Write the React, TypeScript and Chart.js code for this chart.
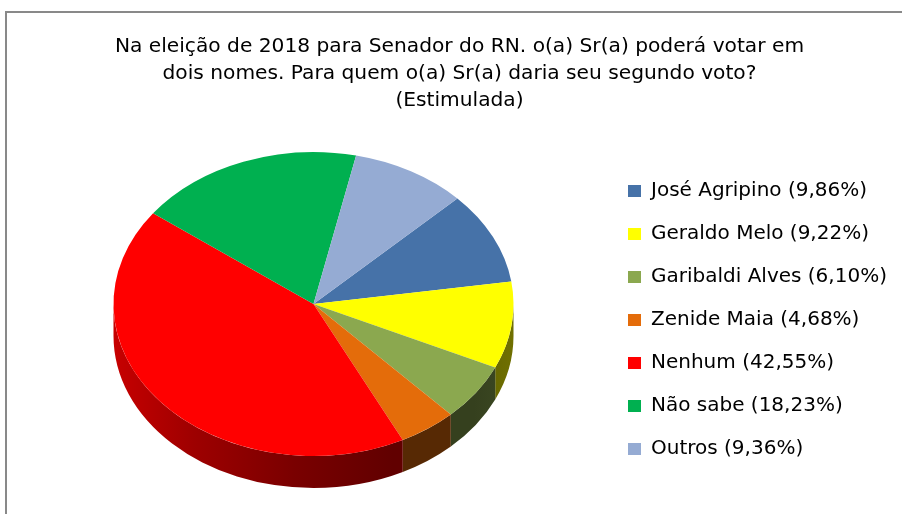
import React, { useEffect, useRef } from 'react';
import { Chart, registerables } from 'chart.js';

Chart.register(...registerables);

// ---- data ----
const categories = ['José Agripino', 'Geraldo Melo', 'Garibaldi Alves', 'Zenide Maia', 'Nenhum', 'Não sabe', 'Outros'];
const values = [9.86, 9.22, 6.10, 4.68, 42.55, 18.23, 9.36];
const colors = ['#4672A8', '#FFFF00', '#8BA84F', '#E46C0A', '#FF0000', '#00B050', '#95ABD3'];
const titleLines = [
  'Na eleição de 2018 para Senador do RN. o(a) Sr(a) poderá votar em',
  'dois nomes. Para quem o(a) Sr(a) daria seu segundo voto?',
  '(Estimulada)',
];
const legendLabels = categories.map((c, i) => `${c} (${values[i].toFixed(2).replace('.', ',')}%)`);

// ---- layout / style constants ----
const W = 902;
const H = 514;
const FONT = '"DejaVu Sans", "Liberation Sans", Arial, sans-serif';
const TITLE_SIZE = 20.2;
const LEGEND_SIZE = 20;
const LEG_PAD = 23;
const BOX_W = 13;
const PIE_CX = 313.5;
const PIE_R = 200;
const SQUASH = 0.76;
const DEPTH = 32;
const LEGEND_LEFT = 605;
const TITLE_CX = 458;

function shade(hex: string, f: number) {
  const n = parseInt(hex.slice(1), 16);
  const r = Math.round(((n >> 16) & 255) * f);
  const g = Math.round(((n >> 8) & 255) * f);
  const b = Math.round((n & 255) * f);
  return `rgb(${r},${g},${b})`;
}

const sideStops: [number, number][] = [
  [0, 0.78], [0.2, 0.62], [0.45, 0.48], [0.7, 0.38], [0.9, 0.38], [1, 0.44],
];

const pie3d = {
  id: 'pie3d',
  beforeDatasetsDraw(chart: any) {
    const meta = chart.getDatasetMeta(0);
    const arcs = meta.data;
    chart.$pie3dSaved = false;
    if (!arcs || !arcs.length) return;
    const ctx: CanvasRenderingContext2D = chart.ctx;
    const cx = arcs[0].x;
    const cy = arcs[0].y;
    const r = arcs[0].outerRadius;
    const ry = r * SQUASH;
    const PI = Math.PI;
    arcs.forEach((arc: any, i: number) => {
      const base = colors[i % colors.length];
      for (const sh of [-2 * PI, 0, 2 * PI]) {
        const s = Math.max(arc.startAngle + sh, 0);
        const e = Math.min(arc.endAngle + sh, PI);
        if (e <= s) continue;
        const grad = ctx.createLinearGradient(cx - r, 0, cx + r, 0);
        sideStops.forEach(([u, f]) => grad.addColorStop(u, shade(base, f)));
        ctx.save();
        ctx.beginPath();
        ctx.ellipse(cx, cy, r, ry, 0, s, e, false);
        ctx.ellipse(cx, cy + DEPTH, r, ry, 0, e, s, true);
        ctx.closePath();
        ctx.fillStyle = grad;
        ctx.fill();
        ctx.restore();
      }
    });
    ctx.save();
    ctx.translate(cx, cy);
    ctx.scale(1, SQUASH);
    ctx.translate(-cx, -cy);
    chart.$pie3dSaved = true;
  },
  afterDatasetsDraw(chart: any) {
    if (chart.$pie3dSaved) {
      chart.ctx.restore();
      chart.$pie3dSaved = false;
    }
  },
};

export default function App() {
  const ref = useRef<HTMLCanvasElement>(null);

  useEffect(() => {
    const canvas = ref.current;
    if (!canvas) return;
    const m = document.createElement('canvas').getContext('2d')!;
    m.font = `normal ${LEGEND_SIZE}px ${FONT}`;
    const maxText = Math.max(...legendLabels.map((t) => m.measureText(t).width));
    const legendW = LEG_PAD + BOX_W + LEGEND_SIZE / 2 + maxText + 10;
    const padRight = Math.max(0, W - LEGEND_LEFT - legendW);
    const padLeft = 2 * PIE_CX - LEGEND_LEFT;
    const titleCenter = (padLeft + W - padRight) / 2;
    m.font = `normal ${TITLE_SIZE}px ${FONT}`;
    const sp = m.measureText(' ').width || 5.8;
    const n = Math.max(0, Math.round((2 * (TITLE_CX - titleCenter)) / sp));
    const shiftedTitle = titleLines.map((l) => ' '.repeat(n) + l);

    const chart = new Chart(canvas, {
      type: 'pie',
      data: {
        labels: legendLabels,
        datasets: [
          {
            data: values,
            backgroundColor: colors,
            borderWidth: 0,
            radius: PIE_R,
            clip: false,
          } as any,
        ],
      },
      plugins: [pie3d],
      options: {
        animation: false,
        responsive: true,
        maintainAspectRatio: false,
        rotation: 46,
        layout: { padding: { left: padLeft, right: padRight, top: 0, bottom: 21 } },
        plugins: {
          tooltip: { enabled: false },
          title: {
            display: true,
            text: shiftedTitle,
            color: '#000',
            font: { family: FONT, size: TITLE_SIZE, weight: 'normal', lineHeight: '27px' } as any,
            padding: { top: 33, bottom: 1 },
          },
          legend: {
            display: true,
            position: 'right',
            title: { display: true, text: ' ', padding: 0, font: { size: 12, lineHeight: '147px' } as any },
            labels: {
              color: '#000',
              font: { family: FONT, size: LEGEND_SIZE, weight: 'normal' },
              boxWidth: BOX_W,
              boxHeight: 12,
              padding: LEG_PAD,
            },
          },
        },
      },
    });
    return () => chart.destroy();
  }, []);

  return (
    <div style={{ position: 'fixed', left: 0, top: 0, width: W, height: H, overflow: 'hidden', background: '#fff' }}>
      <div
        style={{
          position: 'absolute',
          left: 5,
          top: 11,
          right: -10,
          bottom: -10,
          borderLeft: '2px solid #898989',
          borderTop: '2px solid #898989',
        }}
      />
      <canvas ref={ref} style={{ position: 'absolute', left: 0, top: 0 }} />
    </div>
  );
}
